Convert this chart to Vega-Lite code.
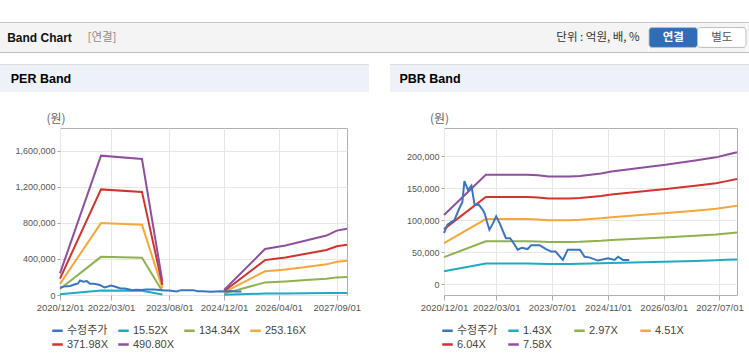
{
  "$schema": "https://vega.github.io/schema/vega-lite/v6.json",
  "padding": {"top": 22, "left": 0, "right": 0, "bottom": 0},
  "background": "white",
  "config": {"view": {"stroke": null}, "font": "Liberation Sans"},
  "datasets": {
    "price": [
      {"d":"2020-12-01","s":"수정주가","v":80000},{"d":"2021-01-01","s":"수정주가","v":93000},{"d":"2021-02-01","s":"수정주가","v":97000},
      {"d":"2021-03-01","s":"수정주가","v":100000},{"d":"2021-04-15","s":"수정주가","v":119000},{"d":"2021-05-10","s":"수정주가","v":128000},
      {"d":"2021-05-28","s":"수정주가","v":161000},{"d":"2021-06-28","s":"수정주가","v":147000},{"d":"2021-07-28","s":"수정주가","v":154000},
      {"d":"2021-08-25","s":"수정주가","v":124000},{"d":"2021-10-01","s":"수정주가","v":124000},{"d":"2021-11-01","s":"수정주가","v":117000},
      {"d":"2021-11-20","s":"수정주가","v":111000},{"d":"2021-12-10","s":"수정주가","v":98000},{"d":"2022-01-01","s":"수정주가","v":85000},
      {"d":"2022-02-01","s":"수정주가","v":95000},{"d":"2022-03-01","s":"수정주가","v":106000},{"d":"2022-04-01","s":"수정주가","v":95000},
      {"d":"2022-05-25","s":"수정주가","v":72000},{"d":"2022-07-01","s":"수정주가","v":72000},{"d":"2022-08-01","s":"수정주가","v":64000},
      {"d":"2022-09-05","s":"수정주가","v":54000},{"d":"2022-10-10","s":"수정주가","v":57000},{"d":"2022-12-01","s":"수정주가","v":55000},
      {"d":"2023-01-01","s":"수정주가","v":61000},{"d":"2023-03-15","s":"수정주가","v":61000},{"d":"2023-05-10","s":"수정주가","v":55000},
      {"d":"2023-06-25","s":"수정주가","v":51000},{"d":"2023-08-01","s":"수정주가","v":51000},{"d":"2023-10-04","s":"수정주가","v":38000},
      {"d":"2023-11-15","s":"수정주가","v":54000},{"d":"2024-03-01","s":"수정주가","v":54000},{"d":"2024-04-10","s":"수정주가","v":43000},
      {"d":"2024-05-20","s":"수정주가","v":42000},{"d":"2024-08-05","s":"수정주가","v":37000},{"d":"2024-11-01","s":"수정주가","v":40500},
      {"d":"2024-12-28","s":"수정주가","v":38000},{"d":"2025-01-28","s":"수정주가","v":43000},{"d":"2025-03-10","s":"수정주가","v":38000},
      {"d":"2025-05-05","s":"수정주가","v":38000}
    ],
    "perBands": [
      {"d":"2020-12-01","g":1,"s":"15.52X","v":7590},{"d":"2020-12-01","g":1,"s":"134.34X","v":65690},{"d":"2020-12-01","g":1,"s":"253.16X","v":123790},{"d":"2020-12-01","g":1,"s":"371.98X","v":181900},{"d":"2020-12-01","g":1,"s":"490.80X","v":240000},
      {"d":"2021-12-01","g":1,"s":"15.52X","v":48950},{"d":"2021-12-01","g":1,"s":"134.34X","v":423710},{"d":"2021-12-01","g":1,"s":"253.16X","v":798480},{"d":"2021-12-01","g":1,"s":"371.98X","v":1173240},{"d":"2021-12-01","g":1,"s":"490.80X","v":1548000},
      {"d":"2022-12-01","g":1,"s":"15.52X","v":47780},{"d":"2022-12-01","g":1,"s":"134.34X","v":413580},{"d":"2022-12-01","g":1,"s":"253.16X","v":779390},{"d":"2022-12-01","g":1,"s":"371.98X","v":1145190},{"d":"2022-12-01","g":1,"s":"490.80X","v":1511000},
      {"d":"2023-06-01","g":1,"s":"15.52X","v":4680},{"d":"2023-06-01","g":1,"s":"134.34X","v":40510},{"d":"2023-06-01","g":1,"s":"253.16X","v":76340},{"d":"2023-06-01","g":1,"s":"371.98X","v":112170},{"d":"2023-06-01","g":1,"s":"490.80X","v":148000},
      {"d":"2024-12-01","g":2,"s":"15.52X","v":1740},{"d":"2024-12-01","g":2,"s":"134.34X","v":15050},{"d":"2024-12-01","g":2,"s":"253.16X","v":28370},{"d":"2024-12-01","g":2,"s":"371.98X","v":41680},{"d":"2024-12-01","g":2,"s":"490.80X","v":55000},
      {"d":"2025-12-01","g":2,"s":"15.52X","v":16160},{"d":"2025-12-01","g":2,"s":"134.34X","v":139870},{"d":"2025-12-01","g":2,"s":"253.16X","v":263580},{"d":"2025-12-01","g":2,"s":"371.98X","v":387290},{"d":"2025-12-01","g":2,"s":"490.80X","v":511000},
      {"d":"2026-03-01","g":2,"s":"15.52X","v":16760},{"d":"2026-03-01","g":2,"s":"134.34X","v":145070},{"d":"2026-03-01","g":2,"s":"253.16X","v":273380},{"d":"2026-03-01","g":2,"s":"371.98X","v":401690},{"d":"2026-03-01","g":2,"s":"490.80X","v":530000},
      {"d":"2026-06-01","g":2,"s":"15.52X","v":17390},{"d":"2026-06-01","g":2,"s":"134.34X","v":150540},{"d":"2026-06-01","g":2,"s":"253.16X","v":283700},{"d":"2026-06-01","g":2,"s":"371.98X","v":416850},{"d":"2026-06-01","g":2,"s":"490.80X","v":550000},
      {"d":"2026-12-01","g":2,"s":"15.52X","v":19130},{"d":"2026-12-01","g":2,"s":"134.34X","v":165600},{"d":"2026-12-01","g":2,"s":"253.16X","v":312070},{"d":"2026-12-01","g":2,"s":"371.98X","v":458530},{"d":"2026-12-01","g":2,"s":"490.80X","v":605000},
      {"d":"2027-06-01","g":2,"s":"15.52X","v":20870},{"d":"2027-06-01","g":2,"s":"134.34X","v":180650},{"d":"2027-06-01","g":2,"s":"253.16X","v":340440},{"d":"2027-06-01","g":2,"s":"371.98X","v":500220},{"d":"2027-06-01","g":2,"s":"490.80X","v":660000},
      {"d":"2027-09-01","g":2,"s":"15.52X","v":22610},{"d":"2027-09-01","g":2,"s":"134.34X","v":195710},{"d":"2027-09-01","g":2,"s":"253.16X","v":368800},{"d":"2027-09-01","g":2,"s":"371.98X","v":541900},{"d":"2027-09-01","g":2,"s":"490.80X","v":715000},
      {"d":"2027-12-01","g":2,"s":"15.52X","v":23240},{"d":"2027-12-01","g":2,"s":"134.34X","v":201180},{"d":"2027-12-01","g":2,"s":"253.16X","v":379120},{"d":"2027-12-01","g":2,"s":"371.98X","v":557060},{"d":"2027-12-01","g":2,"s":"490.80X","v":735000}
    ],
    "pbrBands": [
      {"d":"2020-12-01","s":"1.43X","v":20374},{"d":"2020-12-01","s":"2.97X","v":42317},{"d":"2020-12-01","s":"4.51X","v":64259},{"d":"2020-12-01","s":"6.04X","v":86058},{"d":"2020-12-01","s":"7.58X","v":108000},
      {"d":"2021-12-01","s":"1.43X","v":32260},{"d":"2021-12-01","s":"2.97X","v":67001},{"d":"2021-12-01","s":"4.51X","v":101743},{"d":"2021-12-01","s":"6.04X","v":136259},{"d":"2021-12-01","s":"7.58X","v":171000},
      {"d":"2022-12-01","s":"1.43X","v":32260},{"d":"2022-12-01","s":"2.97X","v":67001},{"d":"2022-12-01","s":"4.51X","v":101743},{"d":"2022-12-01","s":"6.04X","v":136259},{"d":"2022-12-01","s":"7.58X","v":171000},
      {"d":"2023-03-01","s":"1.43X","v":32071},{"d":"2023-03-01","s":"2.97X","v":66610},{"d":"2023-03-01","s":"4.51X","v":101148},{"d":"2023-03-01","s":"6.04X","v":135462},{"d":"2023-03-01","s":"7.58X","v":170000},
      {"d":"2023-06-01","s":"1.43X","v":31694},{"d":"2023-06-01","s":"2.97X","v":65826},{"d":"2023-06-01","s":"4.51X","v":99958},{"d":"2023-06-01","s":"6.04X","v":133868},{"d":"2023-06-01","s":"7.58X","v":168000},
      {"d":"2023-12-01","s":"1.43X","v":31694},{"d":"2023-12-01","s":"2.97X","v":65826},{"d":"2023-12-01","s":"4.51X","v":99958},{"d":"2023-12-01","s":"6.04X","v":133868},{"d":"2023-12-01","s":"7.58X","v":168000},
      {"d":"2024-03-01","s":"1.43X","v":31883},{"d":"2024-03-01","s":"2.97X","v":66218},{"d":"2024-03-01","s":"4.51X","v":100553},{"d":"2024-03-01","s":"6.04X","v":134665},{"d":"2024-03-01","s":"7.58X","v":169000},
      {"d":"2024-06-01","s":"1.43X","v":32260},{"d":"2024-06-01","s":"2.97X","v":67001},{"d":"2024-06-01","s":"4.51X","v":101743},{"d":"2024-06-01","s":"6.04X","v":136259},{"d":"2024-06-01","s":"7.58X","v":171000},
      {"d":"2024-09-01","s":"1.43X","v":32637},{"d":"2024-09-01","s":"2.97X","v":67785},{"d":"2024-09-01","s":"4.51X","v":102933},{"d":"2024-09-01","s":"6.04X","v":137852},{"d":"2024-09-01","s":"7.58X","v":173000},
      {"d":"2024-12-01","s":"1.43X","v":33203},{"d":"2024-12-01","s":"2.97X","v":68960},{"d":"2024-12-01","s":"4.51X","v":104718},{"d":"2024-12-01","s":"6.04X","v":140243},{"d":"2024-12-01","s":"7.58X","v":176000},
      {"d":"2025-12-01","s":"1.43X","v":34712},{"d":"2025-12-01","s":"2.97X","v":72095},{"d":"2025-12-01","s":"4.51X","v":109478},{"d":"2025-12-01","s":"6.04X","v":146617},{"d":"2025-12-01","s":"7.58X","v":184000},
      {"d":"2026-03-01","s":"1.43X","v":35090},{"d":"2026-03-01","s":"2.97X","v":72879},{"d":"2026-03-01","s":"4.51X","v":110668},{"d":"2026-03-01","s":"6.04X","v":148211},{"d":"2026-03-01","s":"7.58X","v":186000},
      {"d":"2026-12-01","s":"1.43X","v":36410},{"d":"2026-12-01","s":"2.97X","v":75621},{"d":"2026-12-01","s":"4.51X","v":114832},{"d":"2026-12-01","s":"6.04X","v":153789},{"d":"2026-12-01","s":"7.58X","v":193000},
      {"d":"2027-06-01","s":"1.43X","v":37353},{"d":"2027-06-01","s":"2.97X","v":77581},{"d":"2027-06-01","s":"4.51X","v":117807},{"d":"2027-06-01","s":"6.04X","v":157773},{"d":"2027-06-01","s":"7.58X","v":198000},
      {"d":"2027-09-01","s":"1.43X","v":38108},{"d":"2027-09-01","s":"2.97X","v":79148},{"d":"2027-09-01","s":"4.51X","v":120187},{"d":"2027-09-01","s":"6.04X","v":160960},{"d":"2027-09-01","s":"7.58X","v":202000},
      {"d":"2027-12-01","s":"1.43X","v":38863},{"d":"2027-12-01","s":"2.97X","v":80715},{"d":"2027-12-01","s":"4.51X","v":122567},{"d":"2027-12-01","s":"6.04X","v":164148},{"d":"2027-12-01","s":"7.58X","v":206000}
    ]
  },
  "spacing": 11,
  "vconcat": [
    {
      "spacing": 0,
      "vconcat": [
        {"width": 749, "height": 1, "view": {"fill": "#c6c6c6"}, "data": {"values": []}, "mark": "text", "encoding": {}},
        {
          "spacing": 0,
          "hconcat": [
            {"width": 79, "height": 29, "view": {"fill": "#f4f4f4"}, "data": {"values": [{"t": "Band Chart"}]},
             "mark": {"type": "text", "fontWeight": "bold", "fontSize": 12, "color": "#111", "font": "Liberation Sans"},
             "encoding": {"text": {"field": "t"}}},
            {"width": 46, "height": 29, "view": {"fill": "#f4f4f4"}, "data": {"values": [{"t": "[연결]"}]},
             "mark": {"type": "text", "fontSize": 11.5, "color": "#8a8a8a", "font": "Noto Sans CJK KR"},
             "encoding": {"text": {"field": "t"}}},
            {"width": 423, "height": 29, "view": {"fill": "#f4f4f4"}, "data": {"values": []}, "mark": "text", "encoding": {}},
            {"width": 100, "height": 29, "view": {"fill": "#f4f4f4"}, "data": {"values": [{"t": "단위 : 억원, 배, %"}]},
             "mark": {"type": "text", "fontSize": 11.5, "color": "#333", "font": "Noto Sans CJK KR"},
             "encoding": {"text": {"field": "t"}}},
            {"width": 97, "height": 29, "view": {"fill": "#f4f4f4"},
             "data": {"values": [{"b": "연결"}, {"b": "별도"}]},
             "encoding": {
               "x": {"field": "b", "type": "nominal", "scale": {"domain": ["연결", "별도"], "paddingInner": 0, "paddingOuter": 0}, "axis": null},
               "y": {"datum": "btn", "type": "nominal", "scale": {"paddingInner": 0, "paddingOuter": 0.23}, "axis": null}
             },
             "layer": [
               {"mark": {"type": "rect", "cornerRadius": 3, "stroke": "#bcbcbc", "strokeWidth": 1},
                "encoding": {"fill": {"field": "b", "type": "nominal", "scale": {"domain": ["연결", "별도"], "range": ["#2f6db6", "#ffffff"]}, "legend": null}}},
               {"transform": [{"filter": "datum.b === '연결'"}],
                "mark": {"type": "text", "fontSize": 11.5, "font": "Noto Sans CJK KR", "fontWeight": "bold", "color": "#ffffff"},
                "encoding": {"text": {"field": "b"}}},
               {"transform": [{"filter": "datum.b === '별도'"}],
                "mark": {"type": "text", "fontSize": 11.5, "font": "Noto Sans CJK KR", "fontWeight": "normal", "color": "#555555"},
                "encoding": {"text": {"field": "b"}}}
             ]},
            {"width": 4, "height": 29, "view": {"fill": "#f4f4f4"}, "data": {"values": []}, "mark": "text", "encoding": {}}
          ]
        },
        {"width": 749, "height": 1, "view": {"fill": "#bdbdbd"}, "data": {"values": []}, "mark": "text", "encoding": {}}
      ]
    },
    {
      "spacing": 21,
      "resolve": {"scale": {"color": "independent"}, "legend": {"color": "independent"}},
      "hconcat": [
        {
          "spacing": 19,
          "vconcat": [
            {"spacing": 0, "vconcat": [
              {"width": 369, "height": 1, "view": {"fill": "#dcdcdc"}, "data": {"values": []}, "mark": "text", "encoding": {}},
              {"spacing": 0, "hconcat": [
                {"width": 82, "height": 27, "view": {"fill": "#eef2f8"}, "data": {"values": [{"t": "PER Band"}]},
                 "mark": {"type": "text", "fontWeight": "bold", "fontSize": 12.5, "color": "#000"},
                 "encoding": {"text": {"field": "t"}}},
                {"width": 287, "height": 27, "view": {"fill": "#eef2f8"}, "data": {"values": []}, "mark": "text", "encoding": {}}
              ]}
            ]},
            {"bounds": "flush", "spacing": 0, "hconcat": [
              {"width": 60, "height": 167, "data": {"values": []}, "mark": "text", "encoding": {}},
              {
              "width": 287, "height": 167,
              "view": {"stroke": "#b0b0b0"},
              "encoding": {
                "x": {"field": "d", "type": "temporal",
                      "scale": {"type": "utc", "domain": [{"year": 2020, "month": 12, "date": 1, "utc": true}, {"year": 2027, "month": 12, "date": 1, "utc": true}]},
                      "axis": {"title": null, "format": "%Y/%m/%d", "labelFontSize": 9.5, "labelColor": "#555", "labelOverlap": false, "labelFlush": false,
                               "tickSize": 5, "tickColor": "#aaa", "domain": false, "gridColor": "#e6e6e6", "labelPadding": 2,
                               "values": [{"year": 2020, "month": 12, "date": 1, "utc": true}, {"year": 2022, "month": 3, "date": 1, "utc": true},
                                          {"year": 2023, "month": 8, "date": 1, "utc": true}, {"year": 2024, "month": 12, "date": 1, "utc": true},
                                          {"year": 2026, "month": 4, "date": 1, "utc": true}, {"year": 2027, "month": 9, "date": 1, "utc": true}]}},
                "y": {"field": "v", "type": "quantitative",
                      "scale": {"domain": [0, 1855000], "nice": false, "zero": false},
                      "axis": {"title": "(원)", "titleAngle": 0, "titleX": -4.5, "titleY": -10, "titleAlign": "center", "titleBaseline": "middle",
                               "titleFont": "Noto Sans CJK KR", "titleFontSize": 12, "titleFontWeight": "normal", "titleColor": "#666",
                               "values": [0, 400000, 800000, 1200000, 1600000], "format": ",d", "labelFontSize": 9, "labelColor": "#555",
                               "tickSize": 3, "tickColor": "#aaa", "labelPadding": 2, "domain": false, "gridColor": "#e6e6e6"}},
                "color": {"field": "s", "type": "nominal",
                          "scale": {"domain": ["수정주가", "15.52X", "134.34X", "253.16X", "371.98X", "490.80X"],
                                    "range": ["#3a75c4", "#21abc2", "#8fb24f", "#f6a73b", "#d1332e", "#8f4f9e"]},
                          "legend": {"title": null, "orient": "none", "legendX": 51, "legendY": 260, "direction": "horizontal", "columns": 4,
                                     "symbolType": "stroke", "symbolStrokeWidth": 2.5, "symbolSize": 110, "labelFontSize": 11,
                                     "labelFont": "Liberation Sans, Noto Sans CJK KR", "labelColor": "#444", "gridAlign": "all",
                                     "columnPadding": 5, "rowPadding": 2, "padding": 0, "labelOffset": 3}}
              },
              "layer": [
                {"data": {"name": "perBands"}, "mark": {"type": "line", "strokeWidth": 2}, "encoding": {"detail": {"field": "g"}}},
                {"data": {"name": "price"}, "mark": {"type": "line", "strokeWidth": 2}}
              ]
            }]}
          ]
        },
        {
          "spacing": 19,
          "vconcat": [
            {"spacing": 0, "vconcat": [
              {"width": 359, "height": 1, "view": {"fill": "#dcdcdc"}, "data": {"values": []}, "mark": "text", "encoding": {}},
              {"spacing": 0, "hconcat": [
                {"width": 80, "height": 27, "view": {"fill": "#eef2f8"}, "data": {"values": [{"t": "PBR Band"}]},
                 "mark": {"type": "text", "fontWeight": "bold", "fontSize": 12.5, "color": "#000"},
                 "encoding": {"text": {"field": "t"}}},
                {"width": 279, "height": 27, "view": {"fill": "#eef2f8"}, "data": {"values": []}, "mark": "text", "encoding": {}}
              ]}
            ]},
            {"bounds": "flush", "spacing": 0, "hconcat": [
              {"width": 54, "height": 167, "data": {"values": []}, "mark": "text", "encoding": {}},
              {
              "width": 293, "height": 167,
              "view": {"stroke": "#b0b0b0"},
              "encoding": {
                "x": {"field": "d", "type": "temporal",
                      "scale": {"type": "utc", "domain": [{"year": 2020, "month": 12, "date": 1, "utc": true}, {"year": 2027, "month": 12, "date": 1, "utc": true}]},
                      "axis": {"title": null, "format": "%Y/%m/%d", "labelFontSize": 9.5, "labelColor": "#555", "labelOverlap": false, "labelFlush": false,
                               "tickSize": 5, "tickColor": "#aaa", "domain": false, "gridColor": "#e6e6e6", "labelPadding": 2,
                               "values": [{"year": 2020, "month": 12, "date": 1, "utc": true}, {"year": 2022, "month": 3, "date": 1, "utc": true},
                                          {"year": 2023, "month": 7, "date": 1, "utc": true}, {"year": 2024, "month": 11, "date": 1, "utc": true},
                                          {"year": 2026, "month": 3, "date": 1, "utc": true}, {"year": 2027, "month": 7, "date": 1, "utc": true}]}},
                "y": {"field": "v", "type": "quantitative",
                      "scale": {"domain": [-16700, 243800], "nice": false, "zero": false},
                      "axis": {"title": "(원)", "titleAngle": 0, "titleX": -5, "titleY": -10, "titleAlign": "center", "titleBaseline": "middle",
                               "titleFont": "Noto Sans CJK KR", "titleFontSize": 12, "titleFontWeight": "normal", "titleColor": "#666",
                               "values": [0, 50000, 100000, 150000, 200000], "format": ",d", "labelFontSize": 9, "labelColor": "#555",
                               "tickSize": 3, "tickColor": "#aaa", "labelPadding": 2, "domain": false, "gridColor": "#e6e6e6"}},
                "color": {"field": "s", "type": "nominal",
                          "scale": {"domain": ["수정주가", "1.43X", "2.97X", "4.51X", "6.04X", "7.58X"],
                                    "range": ["#3a75c4", "#21abc2", "#8fb24f", "#f6a73b", "#d1332e", "#8f4f9e"]},
                          "legend": {"title": null, "orient": "none", "legendX": 51, "legendY": 260, "direction": "horizontal", "columns": 4,
                                     "symbolType": "stroke", "symbolStrokeWidth": 2.5, "symbolSize": 110, "labelFontSize": 11,
                                     "labelFont": "Liberation Sans, Noto Sans CJK KR", "labelColor": "#444", "gridAlign": "all",
                                     "columnPadding": 5, "rowPadding": 2, "padding": 0, "labelOffset": 3}}
              },
              "layer": [
                {"data": {"name": "pbrBands"}, "mark": {"type": "line", "strokeWidth": 2}},
                {"data": {"name": "price"}, "mark": {"type": "line", "strokeWidth": 2}}
              ]
            }]}
          ]
        }
      ]
    }
  ]
}
